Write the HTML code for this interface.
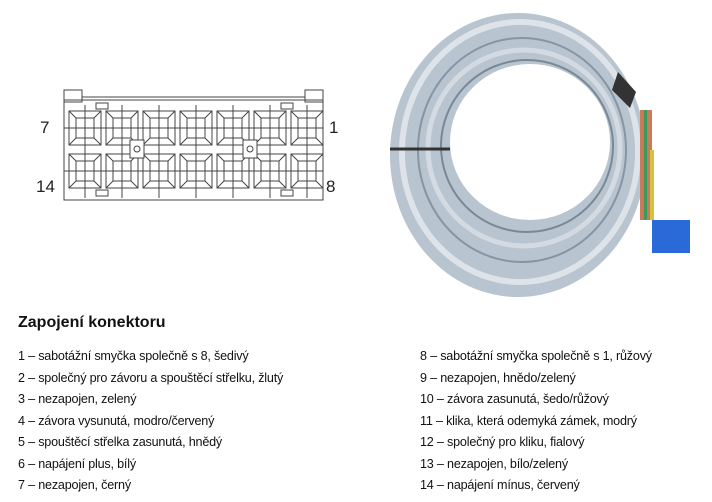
<!DOCTYPE html>
<html><head><meta charset="utf-8"><style>
body{margin:0;width:712px;height:502px;background:#fff;position:relative;overflow:hidden;font-family:"Liberation Sans",sans-serif;color:#111}
.t{position:absolute;font-size:12.6px;white-space:nowrap;letter-spacing:-0.2px}
.h{position:absolute;left:18px;top:314px;font-weight:bold;font-size:16px}
.n{position:absolute;font-size:17px;color:#222}
</style></head><body>
<svg width="712" height="310" style="position:absolute;left:0;top:0">
<g stroke="#444" stroke-width="1" fill="none">
<rect x="64" y="100" width="259" height="100"/>
<rect x="64" y="90" width="18" height="12"/>
<rect x="305" y="90" width="18" height="12"/>
<line x1="82" y1="97" x2="305" y2="97"/>
<line x1="64" y1="128" x2="323" y2="128"/><line x1="64" y1="171" x2="323" y2="171"/>
<g id="c">
<rect x="69" y="111" width="32" height="34"/><rect x="76" y="118" width="18" height="20"/>
<line x1="69" y1="111" x2="76" y2="118"/><line x1="101" y1="111" x2="94" y2="118"/>
<line x1="69" y1="145" x2="76" y2="138"/><line x1="101" y1="145" x2="94" y2="138"/>
</g>
<use href="#c" x="37"/><use href="#c" x="74"/><use href="#c" x="111"/><use href="#c" x="148"/><use href="#c" x="185"/><use href="#c" x="222"/>
<use href="#c" y="43"/><use href="#c" x="37" y="43"/><use href="#c" x="74" y="43"/><use href="#c" x="111" y="43"/><use href="#c" x="148" y="43"/><use href="#c" x="185" y="43"/><use href="#c" x="222" y="43"/>
<g id="v"><line x1="85" y1="105" x2="85" y2="198"/></g>
<use href="#v" x="37"/><use href="#v" x="74"/><use href="#v" x="111"/><use href="#v" x="148"/><use href="#v" x="185"/><use href="#v" x="222"/>
<rect x="96" y="103" width="12" height="6" fill="#fff"/><rect x="281" y="103" width="12" height="6" fill="#fff"/>
<rect x="96" y="190" width="12" height="6" fill="#fff"/><rect x="281" y="190" width="12" height="6" fill="#fff"/>
<rect x="130" y="140" width="14" height="18" fill="#fff"/><circle cx="137" cy="149" r="3"/>
<rect x="243" y="140" width="14" height="18" fill="#fff"/><circle cx="250" cy="149" r="3"/>
</g>
<ellipse cx="518" cy="155" rx="128" ry="142" fill="#b8c4cf"/>
<ellipse cx="520" cy="152" rx="118" ry="130" fill="none" stroke="#dde3e9" stroke-width="6"/>
<ellipse cx="522" cy="150" rx="104" ry="112" fill="none" stroke="#8795a3" stroke-width="2"/>
<ellipse cx="524" cy="148" rx="96" ry="98" fill="none" stroke="#d3dae1" stroke-width="5"/>
<ellipse cx="527" cy="146" rx="86" ry="86" fill="none" stroke="#7a8896" stroke-width="2"/>
<ellipse cx="530" cy="142" rx="80" ry="78" fill="#fff"/>
<path d="M618 72 L636 92 L630 108 L612 90Z" fill="#333"/>
<rect x="640" y="110" width="12" height="110" fill="#c87a5a"/>
<rect x="644" y="110" width="3" height="110" fill="#3a9a5a"/>
<rect x="650" y="150" width="4" height="70" fill="#d8c040"/>
<rect x="652" y="220" width="38" height="33" fill="#2a6ad8"/>
<line x1="390" y1="149" x2="450" y2="149" stroke="#333" stroke-width="3"/>
</svg>
<div class="n" style="left:40px;top:118px">7</div>
<div class="n" style="left:36px;top:177px">14</div>
<div class="n" style="left:329px;top:118px">1</div>
<div class="n" style="left:326px;top:177px">8</div>
<div class="h">Zapojení konektoru</div>
<div class="t" style="left:18px;top:349px">1 – sabotážní smyčka společně s 8, šedivý</div>
<div class="t" style="left:18px;top:371px">2 – společný pro závoru a spouštěcí střelku, žlutý</div>
<div class="t" style="left:18px;top:392px">3 – nezapojen, zelený</div>
<div class="t" style="left:18px;top:414px">4 – závora vysunutá, modro/červený</div>
<div class="t" style="left:18px;top:435px">5 – spouštěcí střelka zasunutá, hnědý</div>
<div class="t" style="left:18px;top:457px">6 – napájení plus, bílý</div>
<div class="t" style="left:18px;top:478px">7 – nezapojen, černý</div>
<div class="t" style="left:420px;top:349px">8 – sabotážní smyčka společně s 1, růžový</div>
<div class="t" style="left:420px;top:371px">9 – nezapojen, hnědo/zelený</div>
<div class="t" style="left:420px;top:392px">10 – závora zasunutá, šedo/růžový</div>
<div class="t" style="left:420px;top:414px">11 – klika, která odemyká zámek, modrý</div>
<div class="t" style="left:420px;top:435px">12 – společný pro kliku, fialový</div>
<div class="t" style="left:420px;top:457px">13 – nezapojen, bílo/zelený</div>
<div class="t" style="left:420px;top:478px">14 – napájení mínus, červený</div>
</body></html>
